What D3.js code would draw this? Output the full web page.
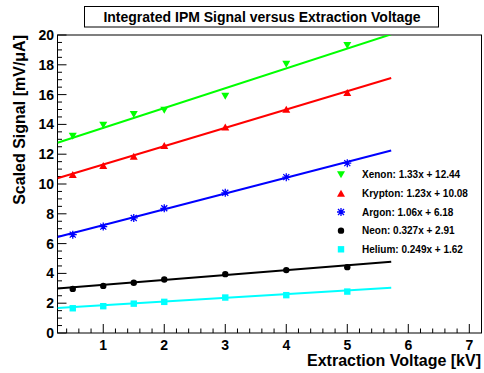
<!DOCTYPE html>
<html><head><meta charset="utf-8">
<script src="https://cdn.jsdelivr.net/npm/d3@7"></script>
<style>
body{margin:0;background:#fff;}
svg{display:block;font-family:"Liberation Sans",Arial,Helvetica,sans-serif;}
</style></head>
<body>
<svg id="c" width="484" height="373"></svg>
<script>
const voltages = [0.5, 1, 1.5, 2, 3, 4, 5];
const xenon   = [13.2, 13.94, 14.66, 14.95, 15.89, 18.03, 19.3];
const krypton = [10.64, 11.25, 11.87, 12.59, 13.83, 15.02, 16.14];
const argon   = [6.6, 7.14, 7.72, 8.37, 9.41, 10.46, 11.4];
const neon    = [2.96, 3.16, 3.37, 3.59, 3.95, 4.22, 4.42];
const helium  = [1.66, 1.8, 1.97, 2.09, 2.38, 2.54, 2.78];
const seriesNames = ["Xenon", "Krypton", "Argon", "Neon", "Helium"];
const slopes = [1.33, 1.23, 1.06, 0.327, 0.249];
const intercepts = [12.44, 10.08, 6.18, 2.91, 1.62];
const legendLabels = ["Xenon: 1.33x + 12.44","Krypton: 1.23x + 10.08","Argon: 1.06x + 6.18","Neon: 0.327x + 2.91","Helium: 0.249x + 1.62"];
const colors = ["#00ff00","#ff0000","#0000ff","#000000","#00ffff"];
const markers = ["tridown","triup","star","circle","square"];
const fitRange = [0.25, 5.72];
const xTicks = [1,2,3,4,5,6,7];
const yTicks = [0,2,4,6,8,10,12,14,16,18,20];
const title = "Integrated IPM Signal versus Extraction Voltage";
const xTitle = "Extraction Voltage [kV]";
const yTitle = "Scaled Signal [mV/\u03bcA]";

const values = [xenon, krypton, argon, neon, helium];
const svg = d3.select("#c");
const L = 57.5, R = 481.5, T = 35, B = 333;
const x = d3.scaleLinear().domain([0.25, 7.2]).range([L, R]);
const y = d3.scaleLinear().domain([0, 20]).range([B, T]);

svg.append("defs").append("clipPath").attr("id","clip")
  .append("rect").attr("x",L).attr("y",T).attr("width",R-L).attr("height",B-T);

// frame
svg.append("rect").attr("x",L).attr("y",T).attr("width",R-L).attr("height",B-T)
  .attr("fill","none").attr("stroke","#000").attr("stroke-width",1);

// x ticks (inside)
const xMinor = d3.range(0.4, 7.2, 0.2).filter(v => Math.abs(v - Math.round(v)) > 0.01);
const gx = svg.append("g");
gx.selectAll(".mj").data(xTicks).enter().append("line")
  .attr("x1",d=>x(d)).attr("x2",d=>x(d)).attr("y1",B).attr("y2",B-9)
  .attr("stroke","#000");
gx.selectAll(".mn").data(xMinor).enter().append("line")
  .attr("x1",d=>x(d)).attr("x2",d=>x(d)).attr("y1",B).attr("y2",B-4.5)
  .attr("stroke","#000");
gx.selectAll("text").data(xTicks).enter().append("text")
  .attr("x",d=>x(d)).attr("y",349.5).attr("text-anchor","middle")
  .attr("font-size",14).attr("font-weight","bold").text(d=>d);

// y ticks
const yMinor = d3.range(0.5, 20, 0.5).filter(v => Math.abs(v/2 - Math.round(v/2)) > 0.01);
const gy = svg.append("g");
gy.selectAll(".mj").data(yTicks).enter().append("line")
  .attr("x1",L).attr("x2",L+9).attr("y1",d=>y(d)).attr("y2",d=>y(d)).attr("stroke","#000");
gy.selectAll(".mn").data(yMinor).enter().append("line")
  .attr("x1",L).attr("x2",L+4.5).attr("y1",d=>y(d)).attr("y2",d=>y(d)).attr("stroke","#000");
gy.selectAll("text").data(yTicks).enter().append("text")
  .attr("x",54).attr("y",d=>y(d)+5).attr("text-anchor","end")
  .attr("font-size",14).attr("font-weight","bold").text(d=>d);

// axis titles
svg.append("text").attr("x",481).attr("y",366).attr("text-anchor","end")
  .attr("font-size",16).attr("font-weight","bold").text(xTitle);
svg.append("text").attr("transform","translate(25,35) rotate(-90)").attr("text-anchor","end")
  .attr("font-size",16).attr("font-weight","bold").text(yTitle);

// title box
svg.append("rect").attr("x",84.5).attr("y",6.5).attr("width",354).attr("height",20.5)
  .attr("fill","#fff").attr("stroke","#000").attr("stroke-width",1);
svg.append("text").attr("x",262).attr("y",21.5).attr("text-anchor","middle")
  .attr("font-size",14).attr("font-weight","bold").text(title);

// marker drawing
function drawMarker(g, type, cx, cy, color) {
  if (type === "tridown") {
    g.append("path").attr("d",`M${cx-4},${cy-3.5}L${cx+4},${cy-3.5}L${cx},${cy+3.5}Z`).attr("fill",color);
  } else if (type === "triup") {
    g.append("path").attr("d",`M${cx-4},${cy+3.5}L${cx+4},${cy+3.5}L${cx},${cy-3.5}Z`).attr("fill",color);
  } else if (type === "star") {
    const r = 4;
    const p = [];
    p.push(`M${cx-r},${cy}L${cx+r},${cy}`);
    p.push(`M${cx},${cy-r}L${cx},${cy+r}`);
    p.push(`M${cx-r*0.75},${cy-r*0.75}L${cx+r*0.75},${cy+r*0.75}`);
    p.push(`M${cx-r*0.75},${cy+r*0.75}L${cx+r*0.75},${cy-r*0.75}`);
    g.append("path").attr("d",p.join("")).attr("stroke",color).attr("stroke-width",1.3).attr("fill","none");
  } else if (type === "circle") {
    g.append("circle").attr("cx",cx).attr("cy",cy).attr("r",3.2).attr("fill",color);
  } else if (type === "square") {
    g.append("rect").attr("x",cx-3.2).attr("y",cy-3.2).attr("width",6.4).attr("height",6.4).attr("fill",color);
  }
}

const plot = svg.append("g").attr("clip-path","url(#clip)");
seriesNames.forEach((name, i) => {
  const line = d3.line().x(d=>x(d)).y(d=>y(slopes[i]*d + intercepts[i]));
  plot.append("path").datum(fitRange).attr("d",line)
    .attr("stroke",colors[i]).attr("stroke-width",2).attr("fill","none");
  const g = plot.append("g");
  voltages.forEach((v, j) => drawMarker(g, markers[i], x(v), y(values[i][j]), colors[i]));
});

// legend
const lg = svg.append("g");
legendLabels.forEach((lab, i) => {
  const cy = 174.7 + i*18.65;
  drawMarker(lg, markers[i], 341, cy, colors[i]);
  lg.append("text").attr("x",362).attr("y",cy+3.5).attr("font-size",10)
    .attr("font-weight","bold").text(lab);
});
</script>
</body></html>
